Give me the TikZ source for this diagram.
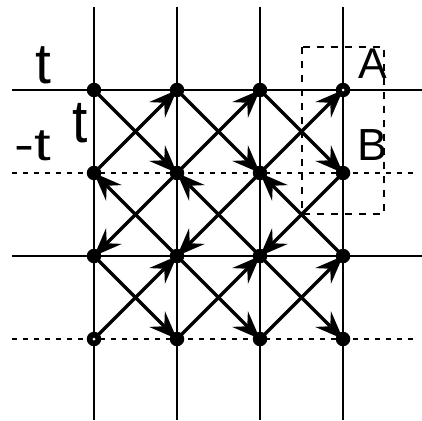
\documentclass[tikz,border=0pt]{standalone}
\usepackage{fontspec}
\setmainfont{Liberation Sans}
\usetikzlibrary{arrows.meta}
\tikzset{
  gridline/.style={line width=2pt},
  dotline/.style={line width=2pt, dash pattern=on 5pt off 6pt},
  boxline/.style={line width=2.5pt, dash pattern=on 7pt off 7pt},
  hop/.style={line width=3.5pt, -{Stealth[length=28pt,width=22pt,inset=10pt]}},
  site/.style={circle, fill=black, inner sep=0pt, minimum size=14.5pt},
  hole/.style={circle, fill=white, inner sep=0pt, minimum size=3pt},
  lbl/.style={anchor=base, inner sep=0pt, outer sep=0pt}
}
\begin{document}
\begin{tikzpicture}[x=1pt, y=-1pt]
\useasboundingbox (0,0) rectangle (422,420);
% grid coordinates
\foreach \i/\x in {0/94,1/177,2/260,3/343}{
  \foreach \j/\y in {0/90,1/173,2/256,3/339}{
    \coordinate (p\i\j) at (\x,\y);
  }
}
% vertical lines
\foreach \i/\x in {0/94,1/177,2/260,3/343}{
  \coordinate (vt\i) at (\x,7);
  \coordinate (vb\i) at (\x,420);
  \draw[gridline] (vt\i) -- (vb\i);
}
% horizontal lines
\coordinate (hl0) at (12,90);  \coordinate (hr0) at (422,90);
\coordinate (hl1) at (12,173); \coordinate (hr1) at (415,173);
\coordinate (hl2) at (12,256); \coordinate (hr2) at (422,256);
\coordinate (hl3) at (12,339); \coordinate (hr3) at (415,339);
\draw[gridline] (hl0) -- (hr0);
\draw[gridline] (hl2) -- (hr2);
\draw[dotline] (hl1) -- (hr1);
\draw[dotline] (hl3) -- (hr3);
% dashed box
\coordinate (bx1) at (302,47);
\coordinate (bx2) at (384,214);
\draw[boxline] (bx1) rectangle (bx2);
% diagonal hops
\foreach \c/\d in {0/1,1/2,2/3}{
  % band 1
  \draw[hop] (p\c0) -- (p\d1);
  \draw[hop] (p\c1) -- (p\d0);
  % band 2
  \draw[hop] (p\d2) -- (p\c1);
  \draw[hop] (p\d1) -- (p\c2);
  % band 3
  \draw[hop] (p\c2) -- (p\d3);
  \draw[hop] (p\c3) -- (p\d2);
}
% sites
\foreach \i in {0,1,2,3}{
  \foreach \j in {0,1,2,3}{
    \node[site] (s\i\j) at (p\i\j) {};
  }
}
\node[hole] (hA) at (p30) {};
\node[hole] (hO) at (p03) {};
% labels
\node[lbl] (t1) at (43,83) {\fontsize{57}{60}\selectfont t};
\node[lbl] (t2) at (80,142) {\scalebox{1}[1.1]{\fontsize{55}{60}\selectfont t}};
\node[lbl] (mt) at (32.5,160) {\scalebox{1.3}[1]{\fontsize{46}{50}\selectfont -t}};
\node[lbl] (A) at (372.5,78) {\fontsize{43}{46}\selectfont A};
\node[lbl] (B) at (372.5,160) {\fontsize{45}{48}\selectfont B};
\end{tikzpicture}
\end{document}
